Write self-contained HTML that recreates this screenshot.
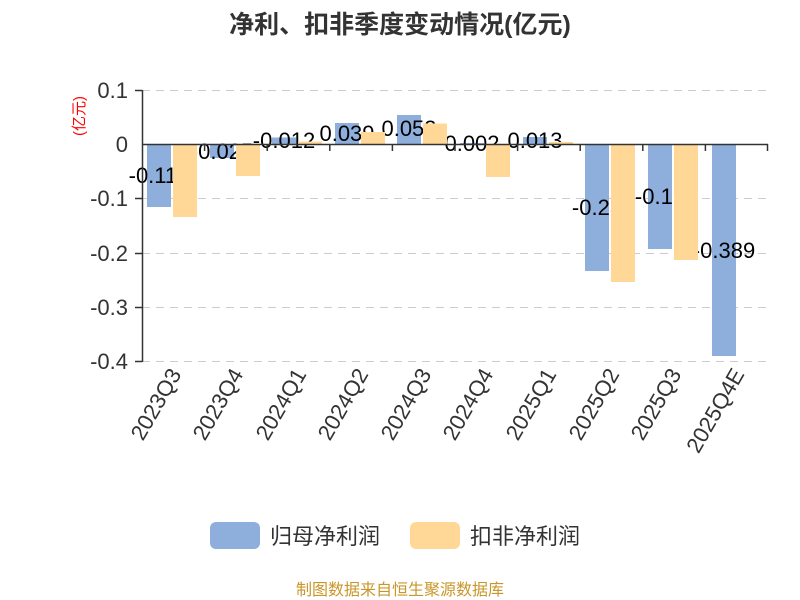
<!DOCTYPE html>
<html><head><meta charset="utf-8"><style>
html,body{margin:0;padding:0;background:#fff;width:800px;height:600px;overflow:hidden}
text{font-family:"Liberation Sans","Noto Sans CJK SC",sans-serif}
</style></head><body>
<svg width="800" height="600" viewBox="0 0 800 600" xmlns="http://www.w3.org/2000/svg">
<text x="400" y="33" text-anchor="middle" font-size="25" font-weight="bold" fill="#333">净利、扣非季度变动情况(亿元)</text>
<g stroke="#ccc" stroke-width="1" stroke-dasharray="8,6">
<line x1="142" y1="90.5" x2="768" y2="90.5"/>
<line x1="142" y1="198.5" x2="768" y2="198.5"/>
<line x1="142" y1="253.5" x2="768" y2="253.5"/>
<line x1="142" y1="307.5" x2="768" y2="307.5"/>
<line x1="142" y1="361.5" x2="768" y2="361.5"/>
</g>
<g font-size="22" fill="#333" text-anchor="end">
<text x="128" y="98">0.1</text>
<text x="128" y="152">0</text>
<text x="128" y="206">-0.1</text>
<text x="128" y="261">-0.2</text>
<text x="128" y="315">-0.3</text>
<text x="128" y="369">-0.4</text>
</g>
<text transform="translate(84,116) rotate(-90)" text-anchor="middle" font-size="15" fill="#f00">(亿元)</text>
<g fill="#8eaedc">
<rect x="147" y="144" width="24" height="63"/>
<rect x="210" y="144" width="24" height="14"/>
<rect x="272" y="137.5" width="24" height="6.5"/>
<rect x="335" y="123" width="24" height="21"/>
<rect x="397" y="115" width="24" height="29"/>
<rect x="460" y="143" width="24" height="1"/>
<rect x="523" y="137" width="24" height="7"/>
<rect x="585" y="144" width="24" height="127"/>
<rect x="648" y="144" width="24" height="105"/>
<rect x="712" y="144" width="24" height="212"/>
</g>
<g font-size="22" fill="#000" text-anchor="middle">
<text x="159" y="183">-0.115</text>
<text x="222" y="159">-0.025</text>
<text x="284" y="148">-0.012</text>
<text x="347" y="141">0.039</text>
<text x="409" y="136">0.053</text>
<text x="472" y="151">0.002</text>
<text x="535" y="148">0.013</text>
<text x="597" y="215">-0.23</text>
<text x="660" y="204">-0.19</text>
<text x="724" y="258">-0.389</text>
</g>
<g fill="#ffd898">
<rect x="173" y="144" width="24" height="73"/>
<rect x="236" y="144" width="24" height="32"/>
<rect x="298" y="141.5" width="24" height="2.5"/>
<rect x="361" y="132" width="24" height="12"/>
<rect x="423" y="123.5" width="24" height="20.5"/>
<rect x="486" y="144" width="24" height="33"/>
<rect x="549" y="142" width="24" height="2"/>
<rect x="611" y="144" width="24" height="138"/>
<rect x="674" y="144" width="24" height="116"/>
</g>
<line x1="142.5" y1="90" x2="142.5" y2="362" stroke="#333" stroke-width="1.5"/>
<g stroke="#333" stroke-width="1.5">
<line x1="135" y1="90.5" x2="142" y2="90.5"/>
<line x1="135" y1="198.5" x2="142" y2="198.5"/>
<line x1="135" y1="253.5" x2="142" y2="253.5"/>
<line x1="135" y1="307.5" x2="142" y2="307.5"/>
<line x1="135" y1="361.5" x2="142" y2="361.5"/>
<line x1="142" y1="144.5" x2="768" y2="144.5"/>
<line x1="204.6" y1="144" x2="204.6" y2="151"/>
<line x1="267.2" y1="144" x2="267.2" y2="151"/>
<line x1="329.8" y1="144" x2="329.8" y2="151"/>
<line x1="392.4" y1="144" x2="392.4" y2="151"/>
<line x1="455" y1="144" x2="455" y2="151"/>
<line x1="517.6" y1="144" x2="517.6" y2="151"/>
<line x1="580.2" y1="144" x2="580.2" y2="151"/>
<line x1="642.8" y1="144" x2="642.8" y2="151"/>
<line x1="705.4" y1="144" x2="705.4" y2="151"/>
<line x1="767.5" y1="144" x2="767.5" y2="151"/>
</g>
<g font-size="22" fill="#333" text-anchor="end">
<text transform="translate(182,374) rotate(-60)">2023Q3</text>
<text transform="translate(244,374) rotate(-60)">2023Q4</text>
<text transform="translate(307,374) rotate(-60)">2024Q1</text>
<text transform="translate(369,374) rotate(-60)">2024Q2</text>
<text transform="translate(432,374) rotate(-60)">2024Q3</text>
<text transform="translate(494,374) rotate(-60)">2024Q4</text>
<text transform="translate(557,374) rotate(-60)">2025Q1</text>
<text transform="translate(620,374) rotate(-60)">2025Q2</text>
<text transform="translate(682,374) rotate(-60)">2025Q3</text>
<text transform="translate(745,374) rotate(-60)">2025Q4E</text>
</g>
<rect x="210" y="522" width="50" height="27" rx="6" fill="#8eaedc"/>
<text x="270" y="544" font-size="22" fill="#333">归母净利润</text>
<rect x="410" y="522" width="50" height="27" rx="6" fill="#ffd898"/>
<text x="470" y="544" font-size="22" fill="#333">扣非净利润</text>
<text x="400" y="595" text-anchor="middle" font-size="16" fill="#c9962a">制图数据来自恒生聚源数据库</text>
</svg>
</body></html>
